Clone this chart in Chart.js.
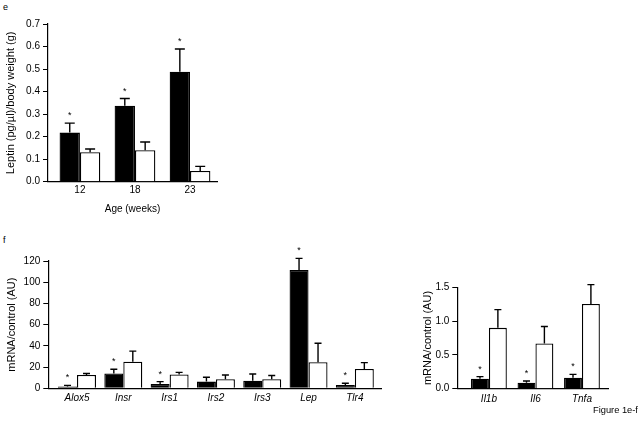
<!DOCTYPE html>
<html>
<head>
<meta charset="utf-8">
<script src="https://cdn.jsdelivr.net/npm/chart.js@4.4.1/dist/chart.umd.min.js"></script>
<style>
  body { margin: 0; background: #fff; }
  #page { position: relative; width: 639px; height: 421px; background: #fff; color: #000; overflow: hidden;
          font-family: "Liberation Sans", Arial, sans-serif; }
  .box { position: absolute; }
  .lbl { position: absolute; font-size: 9px; line-height: 1; white-space: nowrap; }
</style>
</head>
<body>
<div id="page">
  <div class="lbl" style="left:3px;top:3px">e</div>
  <div class="box" style="left:0;top:0"><canvas id="chartE" width="225" height="222"></canvas></div>
  <div class="lbl" style="left:3px;top:236px">f</div>
  <div class="box" style="left:0;top:230px"><canvas id="chartF1" width="390" height="180"></canvas></div>
  <div class="box" style="left:400px;top:230px"><canvas id="chartF2" width="215" height="180"></canvas></div>
  <div class="lbl" style="left:593px;top:406px;font-size:9.3px">Figure 1e-f</div>
</div>
<script>
// DATA (black = first bar, white = second bar of each pair)
const ageLabels = ["12", "18", "23"];
const leptinBlack = [0.218, 0.337, 0.488];
const leptinBlackErr = [0.042, 0.032, 0.101];
const leptinWhite = [0.131, 0.140, 0.048];
const leptinWhiteErr = [0.014, 0.036, 0.020];
const leptinStars = [true, true, true];

const geneLabels = ["Alox5", "Insr", "Irs1", "Irs2", "Irs3", "Lep", "Tlr4"];
const geneBlack = [1.6, 14, 4, 6.3, 7.2, 111.5, 3.1];
const geneBlackErr = [1.2, 4, 2.3, 4.1, 6.3, 11, 1.6];
const geneWhite = [12.6, 25, 13, 8.5, 8.5, 24.5, 18.2];
const geneWhiteErr = [1.4, 10, 2, 4.1, 3.5, 18, 6];
const geneStars = [true, true, true, false, false, true, true];

const cytoLabels = ["Il1b", "Il6", "Tnfa"];
const cytoBlack = [0.148, 0.089, 0.163];
const cytoBlackErr = [0.030, 0.024, 0.049];
const cytoWhite = [0.90, 0.67, 1.253];
const cytoWhiteErr = [0.27, 0.25, 0.287];
const cytoStars = [true, true, true];

const FONT = "Liberation Sans";

// error bars + asterisks drawn from the y scale
const errorBars = {
  id: "errorBars",
  afterDatasetsDraw(chart, args, opts) {
    const ctx = chart.ctx;
    const yScale = chart.scales.y;
    chart.data.datasets.forEach((ds, di) => {
      const meta = chart.getDatasetMeta(di);
      meta.data.forEach((bar, i) => {
        const top = yScale.getPixelForValue(ds.data[i].y + ds.errors[i]);
        ctx.save();
        ctx.strokeStyle = "#000";
        ctx.lineWidth = 1.4;
        ctx.beginPath();
        ctx.moveTo(bar.x, bar.y);
        ctx.lineTo(bar.x, top);
        ctx.moveTo(bar.x - opts.cap / 2, top);
        ctx.lineTo(bar.x + opts.cap / 2, top);
        ctx.stroke();
        if (ds.stars && ds.stars[i]) {
          ctx.fillStyle = "#000";
          ctx.font = "9px " + FONT;
          ctx.textAlign = "center";
          ctx.textBaseline = "alphabetic";
          ctx.fillText("*", bar.x, top - 5);
        }
        ctx.restore();
      });
    });
  }
};

function barChart(id, o) {
  const toPoints = arr => arr.map((v, i) => ({ x: i, y: v }));
  return new Chart(document.getElementById(id), {
    type: "bar",
    data: {
      datasets: [
        { data: toPoints(o.black), errors: o.blackErr, stars: o.stars,
          backgroundColor: "#000", borderColor: "#000", borderWidth: 1.3 },
        { data: toPoints(o.white), errors: o.whiteErr,
          backgroundColor: "#fff", borderColor: "#000", borderWidth: 1.3 }
      ]
    },
    options: {
      responsive: false,
      animation: false,
      events: [],
      categoryPercentage: o.catPct,
      barPercentage: 1.0,
      layout: { padding: o.padding },
      plugins: { legend: { display: false }, tooltip: { enabled: false }, errorBars: { cap: o.cap } },
      scales: {
        x: {
          type: "linear",
          offset: false,
          min: o.xMin,
          max: o.xMax,
          afterBuildTicks: s => { s.ticks = o.labels.map((_, i) => ({ value: i })); },
          afterFit: s => { s.height = o.xHeight; },
          ticks: {
            autoSkip: false, maxRotation: 0, padding: o.xPad, color: "#000",
            font: { family: FONT, size: 10, style: o.italic ? "italic" : "normal" },
            callback: v => o.labels[v]
          },
          grid: { display: false, drawTicks: false, offset: false },
          border: { color: "#000", width: 1.2 },
          title: {
            display: !!o.xTitle, text: o.xTitle || "", color: "#000",
            font: { family: FONT, size: 10 }, padding: { top: 0, bottom: 7 }
          }
        },
        y: {
          min: 0,
          max: o.yMax,
          afterFit: s => { s.width = o.yWidth; },
          ticks: {
            stepSize: o.yStep, padding: 3, color: "#000",
            font: { family: FONT, size: 10 },
            callback: v => v.toFixed(o.dec)
          },
          grid: { drawOnChartArea: false, tickLength: 5, color: "#000", lineWidth: 1 },
          border: { color: "#000", width: 1.2 },
          title: {
            display: true, text: o.yTitle, color: "#000",
            font: { family: FONT, size: 11 }, padding: { top: o.yTitlePad, bottom: 0 }
          }
        }
      }
    },
    plugins: [errorBars]
  });
}

barChart("chartE", {
  labels: ageLabels, black: leptinBlack, blackErr: leptinBlackErr,
  white: leptinWhite, whiteErr: leptinWhiteErr, stars: leptinStars,
  yMax: 0.7, yStep: 0.1, dec: 1,
  yTitle: "Leptin (pg/\u00b5l)/body weight (g)", xTitle: "Age (weeks)", italic: false,
  xMin: -0.58, xMax: 2.49, catPct: 0.74, cap: 10,
  padding: { top: 24, right: 8, left: 0, bottom: 0 },
  yWidth: 48, xHeight: 40.3, xPad: 3, yTitlePad: 4.6
});

barChart("chartF1", {
  labels: geneLabels, black: geneBlack, blackErr: geneBlackErr,
  white: geneWhite, whiteErr: geneWhiteErr, stars: geneStars,
  yMax: 120, yStep: 20, dec: 0,
  yTitle: "mRNA/control (AU)", xTitle: "", italic: true,
  xMin: -0.62, xMax: 6.58, catPct: 0.82, cap: 7,
  padding: { top: 31, right: 8.3, left: 0, bottom: 0 },
  yWidth: 48.3, xHeight: 21.7, xPad: 4, yTitlePad: 5.4
});

barChart("chartF2", {
  labels: cytoLabels, black: cytoBlack, blackErr: cytoBlackErr,
  white: cytoWhite, whiteErr: cytoWhiteErr, stars: cytoStars,
  yMax: 1.5, yStep: 0.5, dec: 1,
  yTitle: "mRNA/control (AU)", xTitle: "", italic: true,
  xMin: -0.68, xMax: 2.56, catPct: 0.77, cap: 7,
  padding: { top: 57.3, right: 7, left: 0, bottom: 0 },
  yWidth: 57.3, xHeight: 21.3, xPad: 5, yTitlePad: 20.9
});
</script>
</body>
</html>
